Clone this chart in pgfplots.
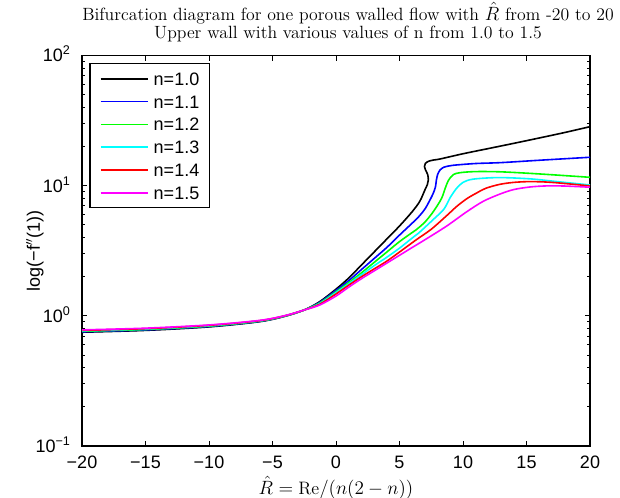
\documentclass[border=0pt]{standalone}
\usepackage{fontspec}
\setsansfont{Liberation Sans}
\usepackage{pgfplots}
\pgfplotsset{compat=1.18}

\definecolor{cK}{rgb}{0,0,0}
\definecolor{cB}{rgb}{0,0,1}
\definecolor{cG}{rgb}{0,1,0}
\definecolor{cC}{rgb}{0,1,1}
\definecolor{cR}{rgb}{1,0,0}
\definecolor{cM}{rgb}{1,0,1}

\newcommand\labfont{\sffamily\fontsize{13.5}{15}\selectfont}

\begin{document}
\begin{tikzpicture}
\path[use as bounding box] (-61.5pt,-39pt) rectangle (403.5pt,334.5pt);
\begin{axis}[
  at={(0pt,0pt)}, anchor=south west,
  scale only axis, width=381pt, height=292.9pt,
  xmin=-20, xmax=20, ymin=0.1, ymax=100,
  ymode=log,
  axis line style={line width=1.1pt},
  every tick/.style={black, line width=0.7pt},
  major tick length=4pt, minor tick length=2.4pt,
  tick align=inside,
  xtick={-20,-15,...,20},
  xticklabels={−20,−15,−10,−5,0,5,10,15,20},
  ytick={0.1,1,10,100},
  yticklabels={10\textsuperscript{−1},10\textsuperscript{0},10\textsuperscript{1},10\textsuperscript{2}},
  minor ytick={0.2,0.3,0.4,0.5,0.6,0.7,0.8,0.9,2,3,4,5,6,7,8,9,20,30,40,50,60,70,80,90},
  tick label style={font=\labfont},
  yticklabel style={anchor=base east, xshift=-5pt, yshift=-4.85pt},
  xticklabel style={anchor=base, yshift=-17pt},
  ylabel={log(−f$''$(1))},
  every axis y label/.style={at={(axis description cs:-0.0925,0.5)}, rotate=90, anchor=center, font=\labfont},
  xlabel={$\hat{R} = \mathrm{Re}/(n(2-n))$},
  every axis x label/.style={at={(axis description cs:0.5,0)}, anchor=center, yshift=-31.5pt, font=\fontsize{13.5}{15}\selectfont},
  title={Bifurcation diagram for one porous walled flow with $\hat{R}$ from -20 to 20\\Upper wall with various values of n from 1.0 to 1.5},
  every axis title/.style={at={(axis description cs:0.5,1)}, anchor=base, align=center, xshift=9pt, yshift=13pt,
    font=\fontsize{13.3}{13.5}\selectfont},
  legend cell align=left,
  legend style={at={(0,1)}, anchor=north west, xshift=5.5pt, yshift=-5.8pt,
    draw=black, line width=0.9pt, font=\labfont,
    inner xsep=7.5pt, inner ysep=5.4pt, row sep=5.4pt, column sep=3.75pt,
    nodes={inner xsep=0pt, inner ysep=1pt, text height=9.7pt, text depth=0pt}},
  legend image code/.code={\draw[#1, line width=1.1pt] (0pt,0pt) -- (35.5pt,0pt);},
  every axis plot/.append style={line width=1.2pt, smooth},
]
% n = 1.0
\addplot[color=cK, draw=cK] coordinates {
(-20,0.748)(-15,0.773)(-10,0.822)(-6,0.902)(-4,0.993)(-2.5,1.109)(-1.3,1.282)
(0,1.603)(1,1.950)(2,2.455)(3,3.090)(4,3.890)(5,4.898)(6,6.310)(6.6,7.586)
(7.0,9.268)(7.2,10.233)(7.27,11.066)(7.22,12.162)(7.05,13.183)(6.97,14.060)
(7.03,14.791)(7.3,15.417)(7.7,15.740)(8.2,16.032)(10,17.579)(12,19.275)
(14,21.135)(16,23.227)(18,25.586)(20,28.379)};
% n = 1.1
\addplot[color=cB, draw=cB] coordinates {
(-20,0.754)(-15,0.779)(-10,0.828)(-6,0.906)(-4,0.996)(-2.5,1.109)(-1.3,1.268)
(0,1.567)(1,1.862)(2,2.265)(3,2.754)(4,3.350)(5,4.169)(6,5.152)(6.5,5.754)
(7.0,6.607)(7.4,7.762)(7.66,8.750)(7.83,9.772)(7.9,10.965)(8.0,12.162)
(8.19,13.183)(8.5,13.868)(9.0,14.223)(9.5,14.421)(11,14.791)(13,15.031)
(16,15.668)(20,16.520)};
% n = 1.2
\addplot[color=cG, draw=cG] coordinates {
(-20,0.761)(-15,0.785)(-10,0.833)(-6,0.910)(-4,0.998)(-2.5,1.109)(-1.3,1.253)
(0,1.531)(1,1.799)(2,2.138)(3,2.570)(4,3.090)(5,3.715)(6,4.365)(6.3,4.571)
(7.0,5.248)(7.66,6.310)(8.3,7.943)(8.6,9.550)(8.85,10.965)(9.24,12.162)
(9.8,12.589)(11,12.823)(13,12.764)(16,12.303)(20,11.588)};
% n = 1.3
\addplot[color=cC, draw=cC] coordinates {
(-20,0.767)(-15,0.791)(-10,0.839)(-6,0.914)(-4,1.000)(-2.5,1.109)(-1.3,1.239)
(0,1.507)(1,1.758)(2,2.065)(3,2.427)(4,2.818)(5,3.311)(6,3.963)(6.5,4.315)
(7.66,5.495)(8.5,6.607)(9.0,8.128)(9.5,9.550)(10.0,10.593)(10.8,11.220)
(12.8,11.535)(15.3,11.272)(17.5,10.715)(20,10.116)};
% n = 1.4
\addplot[color=cR, draw=cR] coordinates {
(-20,0.773)(-15,0.797)(-10,0.845)(-6,0.918)(-4,1.002)(-2.5,1.109)(-1.3,1.225)
(0,1.472)(1,1.718)(2,1.995)(3,2.291)(4,2.630)(5,3.090)(6.3,3.828)(7.5,4.624)
(8.72,5.888)(9.5,6.918)(10.3,7.943)(11.1,8.810)(11.8,9.550)(12.9,10.233)
(14,10.593)(15.3,10.740)(17,10.593)(20,9.954)};
% n = 1.5
\addplot[color=cM, draw=cM] coordinates {
(-20,0.780)(-15,0.804)(-10,0.851)(-6,0.923)(-4,1.005)(-2.5,1.109)(-1.3,1.208)
(0,1.419)(1,1.660)(2,1.928)(3,2.213)(4,2.541)(5,2.917)(6,3.350)(6.93,3.802)
(8.72,4.898)(10.3,6.310)(11.6,7.586)(12.9,8.610)(14,9.333)(15.3,9.772)
(16.6,9.954)(18,9.931)(20,9.727)};
\legend{n=1.0,n=1.1,n=1.2,n=1.3,n=1.4,n=1.5}
\end{axis}
\end{tikzpicture}
\end{document}
